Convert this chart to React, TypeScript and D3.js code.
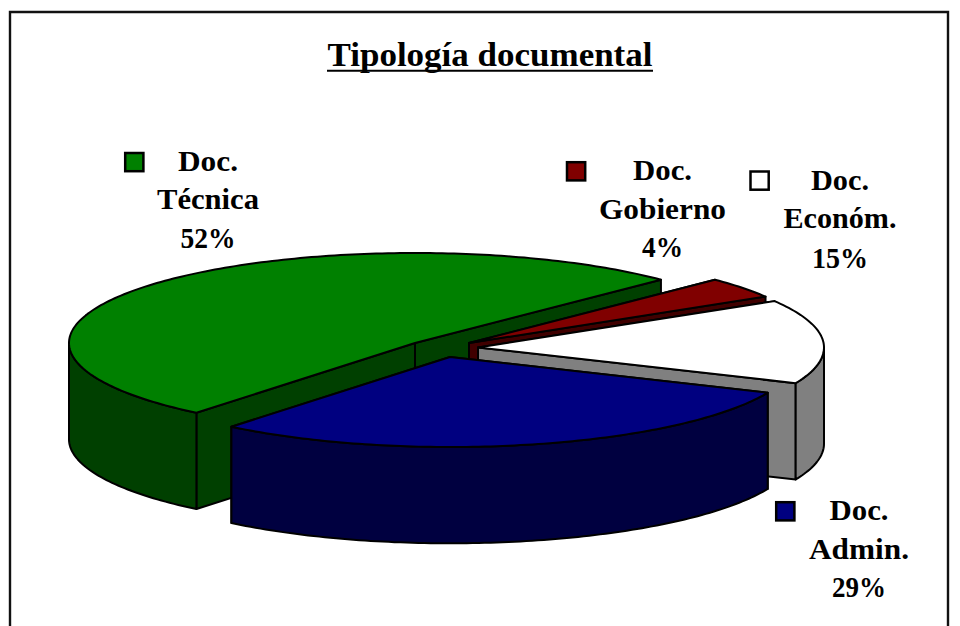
import React from "react";
import * as d3 from "d3";

const title = "Tipología documental";
const categories = ["Doc. Gobierno", "Doc. Económ.", "Doc. Admin.", "Doc. Técnica"];
const shares = [3.8, 15.1, 29.4, 51.7];
const topColors = ["#800000", "#ffffff", "#000080", "#008000"];
const wallColors = ["#400000", "#808080", "#000040", "#004000"];

const W = 960, H = 626;
const rx = 346, ry = 90, depth = 96.3;
const centers: [number, number][] = [[469, 343], [478, 347.5], [450, 357], [415, 343]];
const swatches: [number, number][] = [[567, 162.2], [750.5, 171.5], [776.2, 502.2], [125.2, 153]];
const labelX = [662.5, 840, 859, 208];
const labelY = [[180, 219, 257], [190, 228, 267.5], [520, 559, 597], [171, 209, 248]];
const labelW = [[59, 127, 41], [58, 113, 56], [59, 100, 54], [60, 102, 55]];

const rad = (d: number) => (d * Math.PI) / 180;
const pie = d3.pie<number>().sort(null).startAngle(rad(45.3)).endAngle(rad(405.3));
const slices = pie(shares);

const outline = d3.line<[number, number]>();
function rim(c: [number, number], a: number, dy = 0): [number, number] {
  return [c[0] + rx * Math.sin(a), c[1] - ry * Math.cos(a) + dy];
}
function arcPts(c: [number, number], a0: number, a1: number, dy = 0): [number, number][] {
  const n = Math.max(2, Math.ceil(Math.abs(a1 - a0) / rad(1)));
  return d3.range(n + 1).map((i) => rim(c, a0 + ((a1 - a0) * i) / n, dy));
}
function radialWall(c: [number, number], a: number) {
  const p = rim(c, a);
  return (outline([c, p, [p[0], p[1] + depth], [c[0], c[1] + depth]]) as string) + "Z";
}
function outerWall(c: [number, number], a0: number, a1: number) {
  const s = Math.max(a0, rad(90));
  const e = Math.min(a1, rad(270));
  if (e <= s) return null;
  return (outline([...arcPts(c, s, e), ...arcPts(c, e, s, depth)]) as string) + "Z";
}
function topFace(c: [number, number], a0: number, a1: number) {
  return (outline([c, ...arcPts(c, a0, a1)]) as string) + "Z";
}

const drawOrder = [3, 0, 1, 2];
const font = "'Liberation Serif', serif";

export default function App() {
  return (
    <svg width={W} height={H} style={{ position: "absolute", left: 0, top: 0, background: "#fff" }}>
      <path d={`M10 ${H}V12H948V${H}`} fill="none" stroke="#111" strokeWidth={2.4} />
      <text
        x={490} y={66} textAnchor="middle" fontFamily={font} fontWeight="bold" fontSize={33}
        textLength={325} lengthAdjust="spacingAndGlyphs" fill="#000"
      >{title}</text>
      <line x1={327} x2={653} y1={70.7} y2={70.7} stroke="#000" strokeWidth={2} />
      <g stroke="#000" strokeWidth={2} strokeLinejoin="round">
        {drawOrder.map((i) => {
          const s = slices[i], c = centers[i];
          const wall = outerWall(c, s.startAngle, s.endAngle);
          return (
            <g key={categories[i]}>
              <path d={radialWall(c, s.startAngle)} fill={wallColors[i]} />
              <path d={radialWall(c, s.endAngle)} fill={wallColors[i]} />
              {wall && <path d={wall} fill={wallColors[i]} />}
              <path d={topFace(c, s.startAngle, s.endAngle)} fill={topColors[i]} />
            </g>
          );
        })}
      </g>
      {categories.map((cat, i) => {
        const lines = [...cat.split(" "), `${Math.round(shares[i])}%`];
        return (
          <g key={cat}>
            <rect x={swatches[i][0]} y={swatches[i][1]} width={18.2} height={18.2} fill={topColors[i]} stroke="#000" strokeWidth={2.5} />
            {lines.map((l, k) => (
              <text
                key={l} x={labelX[i]} y={labelY[i][k]} textAnchor="middle" fontFamily={font}
                fontWeight="bold" fontSize={29} textLength={labelW[i][k]} lengthAdjust="spacingAndGlyphs" fill="#000"
              >{l}</text>
            ))}
          </g>
        );
      })}
    </svg>
  );
}
